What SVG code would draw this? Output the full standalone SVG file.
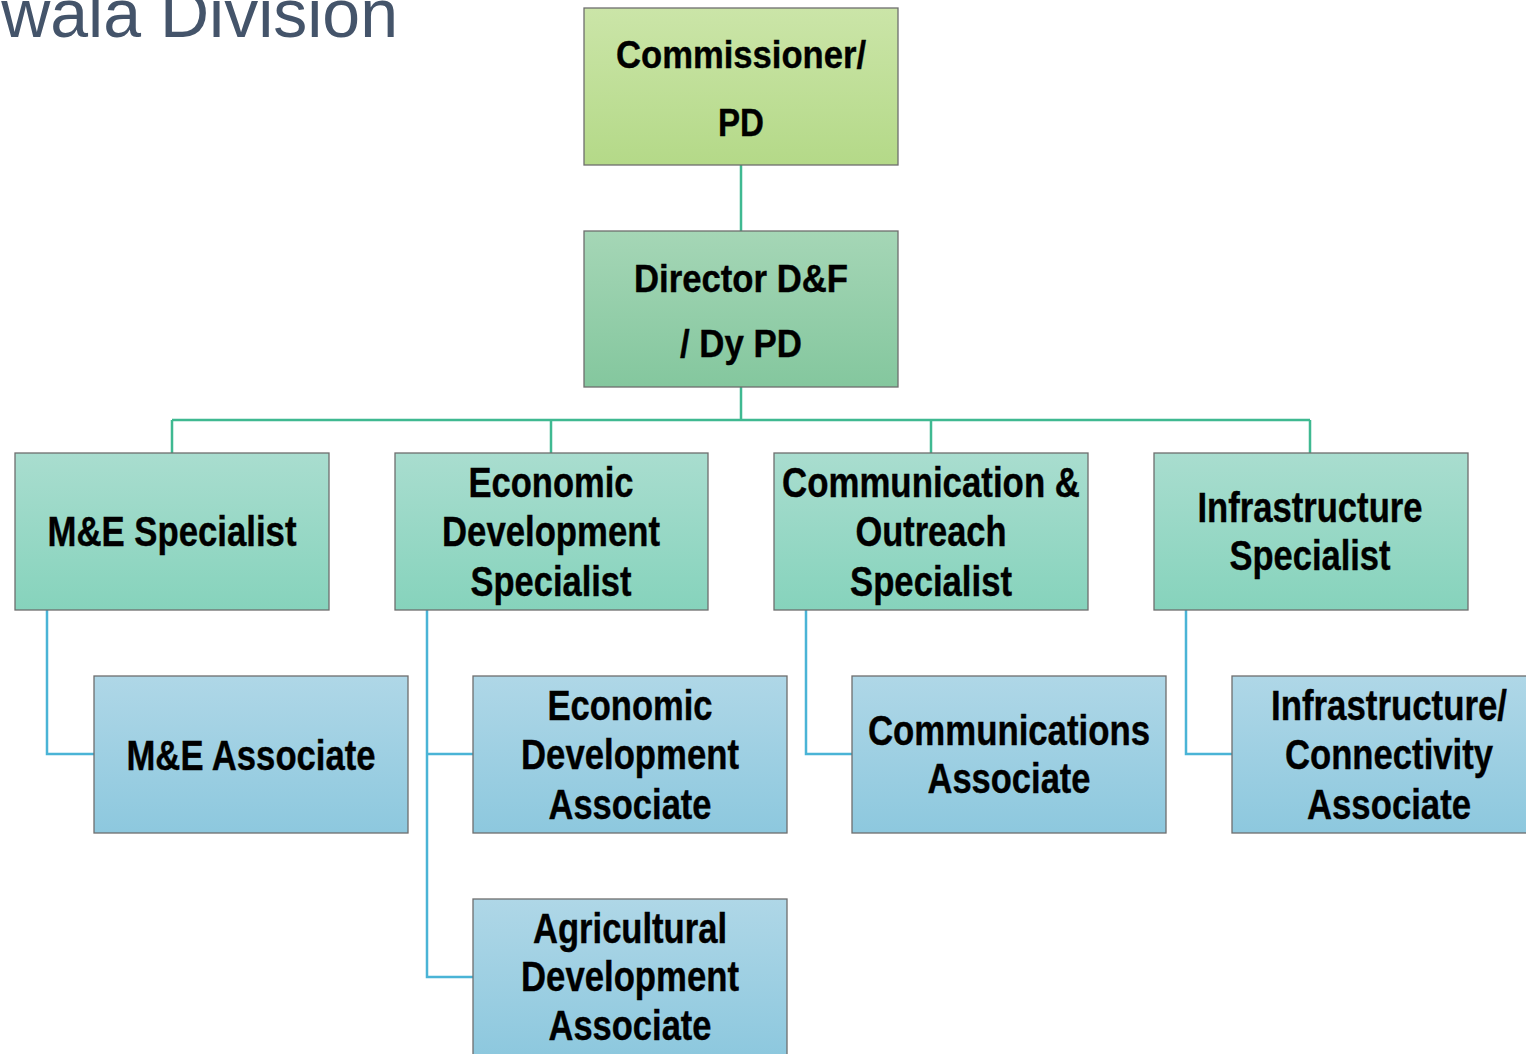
<svg xmlns="http://www.w3.org/2000/svg" width="1526" height="1054" viewBox="0 0 1526 1054">
<defs>
<linearGradient id="gTop" x1="0" y1="0" x2="0" y2="1"><stop offset="0" stop-color="#cbe5a8"/><stop offset="1" stop-color="#b4d988"/></linearGradient>
<linearGradient id="gDir" x1="0" y1="0" x2="0" y2="1"><stop offset="0" stop-color="#a5d6b6"/><stop offset="1" stop-color="#84c79e"/></linearGradient>
<linearGradient id="gSpec" x1="0" y1="0" x2="0" y2="1"><stop offset="0" stop-color="#a9ddcf"/><stop offset="1" stop-color="#86d3bc"/></linearGradient>
<linearGradient id="gAssoc" x1="0" y1="0" x2="0" y2="1"><stop offset="0" stop-color="#afd7e7"/><stop offset="1" stop-color="#8dc8de"/></linearGradient>
</defs>
<style>
.box{stroke:#6e6e6e;stroke-width:1.3}
.t{font-family:"Liberation Sans",Arial,sans-serif;font-weight:bold;font-size:42px;fill:#000;stroke:#000;stroke-width:0.4;text-anchor:middle}
.s{font-size:39px}
.cg{stroke:#3fb991;stroke-width:2.5;fill:none}
.cb{stroke:#4ab4d6;stroke-width:2.5;fill:none}
.title{font-family:"Liberation Sans",Arial,sans-serif;font-size:68px;fill:#44546a;text-anchor:end}
</style>
<rect width="1526" height="1054" fill="#fff"/>
<text class="title" x="398" y="37">wala Division</text>
<g id="connectors">
<path class="cg" d="M741 165V231M741 387V420M172 420H1310M172 420V453M551 420V453M931 420V453M1310 420V453"/>
<path class="cb" d="M47 610V754H94M427 610V977H473M427 754H473M806 610V754H852M1186 610V754H1232"/>
</g>
<g id="commissioner"><rect class="box" x="584" y="8" width="314" height="157" fill="url(#gTop)"/><text class="t s" x="741" y="68" textLength="250" lengthAdjust="spacingAndGlyphs">Commissioner/</text><text class="t s" x="741" y="136" textLength="46" lengthAdjust="spacingAndGlyphs">PD</text></g>
<g id="director"><rect class="box" x="584" y="231" width="314" height="156" fill="url(#gDir)"/><text class="t s" x="741" y="292" textLength="214" lengthAdjust="spacingAndGlyphs">Director D&amp;F</text><text class="t s" x="741" y="357" textLength="122" lengthAdjust="spacingAndGlyphs">/ Dy PD</text></g>
<g id="me-specialist"><rect class="box" x="15" y="453" width="314" height="157" fill="url(#gSpec)"/><text class="t" x="172" y="546" textLength="249" lengthAdjust="spacingAndGlyphs">M&amp;E Specialist</text></g>
<g id="econ-specialist"><rect class="box" x="395" y="453" width="313" height="157" fill="url(#gSpec)"/><text class="t" x="551" y="497" textLength="165" lengthAdjust="spacingAndGlyphs">Economic</text><text class="t" x="551" y="546" textLength="218" lengthAdjust="spacingAndGlyphs">Development</text><text class="t" x="551" y="596" textLength="161" lengthAdjust="spacingAndGlyphs">Specialist</text></g>
<g id="comm-specialist"><rect class="box" x="774" y="453" width="314" height="157" fill="url(#gSpec)"/><text class="t" x="931" y="497" textLength="298" lengthAdjust="spacingAndGlyphs">Communication &amp;</text><text class="t" x="931" y="546" textLength="151" lengthAdjust="spacingAndGlyphs">Outreach</text><text class="t" x="931" y="596" textLength="162" lengthAdjust="spacingAndGlyphs">Specialist</text></g>
<g id="infra-specialist"><rect class="box" x="1154" y="453" width="314" height="157" fill="url(#gSpec)"/><text class="t" x="1310" y="522" textLength="225" lengthAdjust="spacingAndGlyphs">Infrastructure</text><text class="t" x="1310" y="570" textLength="161" lengthAdjust="spacingAndGlyphs">Specialist</text></g>
<g id="me-associate"><rect class="box" x="94" y="676" width="314" height="157" fill="url(#gAssoc)"/><text class="t" x="251" y="770" textLength="249" lengthAdjust="spacingAndGlyphs">M&amp;E Associate</text></g>
<g id="econ-associate"><rect class="box" x="473" y="676" width="314" height="157" fill="url(#gAssoc)"/><text class="t" x="630" y="720" textLength="165" lengthAdjust="spacingAndGlyphs">Economic</text><text class="t" x="630" y="769" textLength="218" lengthAdjust="spacingAndGlyphs">Development</text><text class="t" x="630" y="819" textLength="163" lengthAdjust="spacingAndGlyphs">Associate</text></g>
<g id="comm-associate"><rect class="box" x="852" y="676" width="314" height="157" fill="url(#gAssoc)"/><text class="t" x="1009" y="745" textLength="282" lengthAdjust="spacingAndGlyphs">Communications</text><text class="t" x="1009" y="793" textLength="163" lengthAdjust="spacingAndGlyphs">Associate</text></g>
<g id="infra-associate"><rect class="box" x="1232" y="676" width="314" height="157" fill="url(#gAssoc)"/><text class="t" x="1389" y="720" textLength="236" lengthAdjust="spacingAndGlyphs">Infrastructure/</text><text class="t" x="1389" y="769" textLength="208" lengthAdjust="spacingAndGlyphs">Connectivity</text><text class="t" x="1389" y="819" textLength="164" lengthAdjust="spacingAndGlyphs">Associate</text></g>
<g id="agri-associate"><rect class="box" x="473" y="899" width="314" height="157" fill="url(#gAssoc)"/><text class="t" x="630" y="943" textLength="194" lengthAdjust="spacingAndGlyphs">Agricultural</text><text class="t" x="630" y="991" textLength="218" lengthAdjust="spacingAndGlyphs">Development</text><text class="t" x="630" y="1040" textLength="163" lengthAdjust="spacingAndGlyphs">Associate</text></g>
</svg>
